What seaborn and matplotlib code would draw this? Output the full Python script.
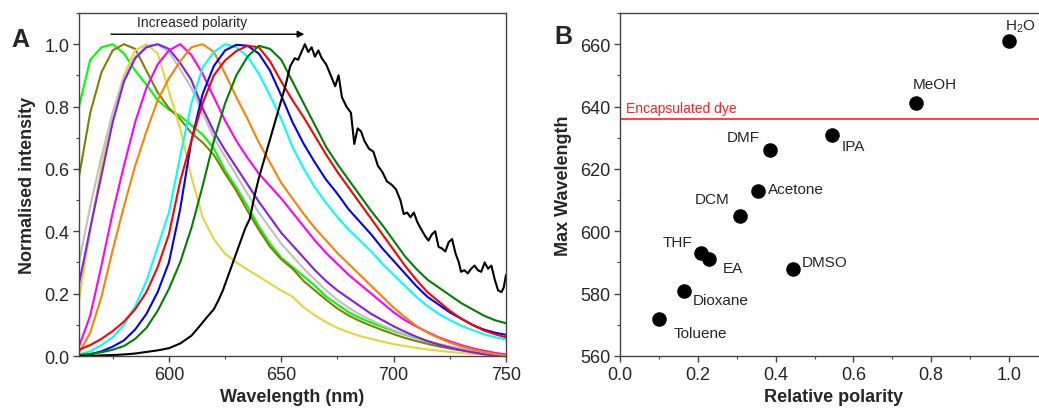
import numpy as np
import pandas as pd
import matplotlib
matplotlib.use("Agg")
import matplotlib.pyplot as plt
from matplotlib.ticker import MultipleLocator
import seaborn as sns

# ---------------- Data: panel A (emission spectra) ----------------
wl = [560, 565, 570, 575, 580, 585, 590, 595, 600, 605, 610, 615, 620, 625, 630,
      635, 640, 645, 650, 655, 660, 665, 670, 675, 680, 685, 690, 695, 700, 705,
      710, 715, 720, 725, 730, 735, 740, 745, 750]

lime = [0.80, 0.95, 0.99, 1.00, 0.97, 0.915, 0.87, 0.82, 0.79, 0.77, 0.74, 0.71, 0.665, 0.595, 0.54,
        0.48, 0.415, 0.36, 0.315, 0.285, 0.255, 0.225, 0.19, 0.165, 0.14, 0.122, 0.107, 0.093, 0.08, 0.068,
        0.057, 0.047, 0.038, 0.03, 0.023, 0.017, 0.012, 0.007, 0.003]
olive = [0.575, 0.78, 0.91, 0.98, 1.00, 0.985, 0.915, 0.845, 0.795, 0.76, 0.715, 0.685, 0.645, 0.585, 0.53,
         0.465, 0.405, 0.35, 0.31, 0.28, 0.24, 0.21, 0.18, 0.152, 0.13, 0.112, 0.097, 0.083, 0.07, 0.058,
         0.048, 0.039, 0.031, 0.024, 0.018, 0.013, 0.008, 0.004, 0.002]
gold = [0.18, 0.40, 0.61, 0.78, 0.90, 0.98, 1.00, 0.97, 0.85, 0.73, 0.575, 0.445, 0.375, 0.328, 0.30,
        0.277, 0.255, 0.232, 0.21, 0.19, 0.156, 0.13, 0.108, 0.09, 0.076, 0.064, 0.055, 0.046, 0.038, 0.032,
        0.026, 0.021, 0.017, 0.013, 0.01, 0.007, 0.005, 0.003, 0.001]
gray = [0.30, 0.48, 0.64, 0.78, 0.89, 0.96, 0.995, 1.00, 0.975, 0.92, 0.86, 0.78, 0.70, 0.64, 0.58,
        0.52, 0.46, 0.41, 0.36, 0.32, 0.28, 0.245, 0.21, 0.18, 0.155, 0.133, 0.115, 0.098, 0.083, 0.07,
        0.058, 0.048, 0.039, 0.031, 0.024, 0.018, 0.012, 0.007, 0.003]
violet = [0.23, 0.41, 0.58, 0.75, 0.88, 0.955, 0.99, 1.00, 0.985, 0.94, 0.885, 0.795, 0.72, 0.66, 0.605,
          0.55, 0.495, 0.445, 0.395, 0.355, 0.315, 0.275, 0.24, 0.21, 0.185, 0.16, 0.135, 0.115, 0.095, 0.078,
          0.062, 0.048, 0.037, 0.027, 0.019, 0.012, 0.006, 0.002, 0.0]
magenta = [0.03, 0.13, 0.29, 0.46, 0.61, 0.75, 0.86, 0.935, 0.98, 1.00, 0.965, 0.905, 0.83, 0.755, 0.69,
           0.635, 0.585, 0.545, 0.505, 0.46, 0.415, 0.37, 0.33, 0.295, 0.26, 0.23, 0.20, 0.17, 0.14, 0.115,
           0.095, 0.077, 0.06, 0.047, 0.035, 0.025, 0.017, 0.01, 0.005]
orange = [0.01, 0.075, 0.19, 0.34, 0.48, 0.61, 0.72, 0.82, 0.89, 0.945, 0.99, 1.00, 0.975, 0.905, 0.83,
          0.76, 0.685, 0.62, 0.555, 0.505, 0.455, 0.41, 0.37, 0.33, 0.295, 0.26, 0.225, 0.19, 0.155, 0.125,
          0.097, 0.075, 0.058, 0.043, 0.031, 0.021, 0.013, 0.006, 0.002]
cyan = [0.005, 0.015, 0.035, 0.06, 0.10, 0.16, 0.24, 0.35, 0.46, 0.64, 0.81, 0.925, 0.975, 1.00, 0.99,
        0.96, 0.905, 0.835, 0.76, 0.67, 0.60, 0.54, 0.49, 0.445, 0.405, 0.37, 0.335, 0.295, 0.26, 0.225,
        0.19, 0.16, 0.135, 0.115, 0.097, 0.083, 0.07, 0.06, 0.053]
blue = [0.0, 0.005, 0.015, 0.03, 0.05, 0.085, 0.135, 0.205, 0.30, 0.47, 0.69, 0.84, 0.93, 0.98, 0.998,
        0.995, 0.97, 0.915, 0.835, 0.75, 0.68, 0.62, 0.565, 0.52, 0.47, 0.43, 0.39, 0.345, 0.305, 0.265,
        0.225, 0.19, 0.165, 0.14, 0.12, 0.10, 0.085, 0.075, 0.068]
red = [0.02, 0.035, 0.055, 0.08, 0.11, 0.15, 0.205, 0.285, 0.39, 0.56, 0.69, 0.81, 0.90, 0.948, 0.978,
       0.995, 0.99, 0.945, 0.88, 0.82, 0.765, 0.705, 0.645, 0.59, 0.54, 0.49, 0.44, 0.39, 0.34, 0.29,
       0.245, 0.205, 0.175, 0.145, 0.12, 0.10, 0.082, 0.07, 0.06]
dkgreen = [0.003, 0.007, 0.012, 0.02, 0.032, 0.055, 0.09, 0.145, 0.215, 0.30, 0.41, 0.545, 0.69, 0.81, 0.90,
           0.96, 0.995, 0.985, 0.95, 0.88, 0.81, 0.74, 0.67, 0.615, 0.565, 0.515, 0.465, 0.42, 0.37, 0.32,
           0.28, 0.245, 0.22, 0.195, 0.17, 0.15, 0.13, 0.115, 0.105]

wl_black = [560, 565, 570, 575, 580, 585, 590, 595, 600, 605, 610, 613, 617, 620, 622, 624, 626, 628,
            630, 632, 634, 636, 638, 640, 642, 644, 646, 648, 650, 652, 654, 656, 657.5, 659, 660.5,
            662, 663.5, 665, 666.5, 668, 670, 672, 674, 675.5, 677, 679, 681, 682.5, 684, 685.5, 687,
            689, 691, 693, 695, 697, 699, 701, 703, 704.5, 706, 707.5, 709, 710.5, 712, 714, 715.5,
            717, 718.5, 720, 721.5, 723, 724.5, 726, 727.5, 729, 730, 731.5, 733, 734.5, 736, 737.5,
            739, 740.5, 742, 743.5, 745, 746.5, 748, 749, 750]
black = [0.0, 0.0, 0.002, 0.003, 0.005, 0.008, 0.013, 0.018, 0.025, 0.04, 0.065, 0.09, 0.125, 0.15,
         0.178, 0.21, 0.25, 0.29, 0.33, 0.37, 0.41, 0.44, 0.51, 0.57, 0.62, 0.67, 0.72, 0.77, 0.82,
         0.87, 0.93, 0.955, 0.95, 0.975, 1.0, 0.975, 0.99, 0.96, 0.98, 0.955, 0.935, 0.90, 0.865,
         0.90, 0.83, 0.80, 0.78, 0.68, 0.73, 0.72, 0.69, 0.665, 0.655, 0.61, 0.59, 0.56, 0.55, 0.535,
         0.50, 0.455, 0.46, 0.445, 0.46, 0.43, 0.41, 0.385, 0.37, 0.39, 0.40, 0.35, 0.345, 0.335,
         0.365, 0.375, 0.33, 0.30, 0.27, 0.275, 0.265, 0.28, 0.29, 0.275, 0.27, 0.30, 0.28, 0.29,
         0.245, 0.21, 0.205, 0.22, 0.26]

series_names = ["lime", "olive", "gold", "gray", "violet", "magenta", "orange",
                "cyan", "blue", "red", "dkgreen", "black"]
series_colors = ["#00ff00", "#808000", "#e6d43a", "#c0c0c0", "#8020e8", "#ff00ff", "#ff8000",
                 "#00ffff", "#0000ff", "#ff0000", "#008000", "#000000"]

# ---------------- Data: panel B ----------------
solvents = ["Toluene", "Dioxane", "THF", "EA", "DCM", "Acetone", "DMF", "DMSO", "IPA", "MeOH", "H$_2$O"]
rel_polarity = [0.099, 0.164, 0.207, 0.228, 0.309, 0.355, 0.386, 0.444, 0.546, 0.762, 1.000]
max_wl = [572, 581, 593, 591, 605, 613, 626, 588, 631, 641, 661]
label_x = [0.139, 0.186, 0.109, 0.265, 0.193, 0.381, 0.274, 0.468, 0.569, 0.752, 0.99]
label_y = [567.4, 578.0, 596.7, 588.2, 610.4, 613.6, 630.1, 590.3, 627.4, 647.2, 666.0]
encapsulated_dye = 636

# ---------------- Build long-form table ----------------
curve_values = [lime, olive, gold, gray, violet, magenta, orange, cyan, blue, red, dkgreen]
frames = []
for name, vals in zip(series_names[:-1], curve_values):
    frames.append(pd.DataFrame({"wl": wl, "I": vals, "series": name}))
frames.append(pd.DataFrame({"wl": wl_black, "I": black, "series": "black"}))
spec = pd.concat(frames, ignore_index=True)
dfB = pd.DataFrame({"x": rel_polarity, "y": max_wl, "name": solvents})

# ---------------- Style ----------------
sns.set_style("ticks")
plt.rcParams["font.family"] = ["Liberation Sans", "DejaVu Sans"]
plt.rcParams["mathtext.fontset"] = "custom"
plt.rcParams["mathtext.rm"] = "Liberation Sans"
plt.rcParams["mathtext.it"] = "Liberation Sans"
spine_c = "#444444"

fig = plt.figure(figsize=(10.39, 4.14), dpi=100)
axA = fig.add_axes([79/1039, 1-357/414, (506-79)/1039, (357-14)/414])
axB = fig.add_axes([620/1039, 1-357/414, 1.1*389/1039, (357-14)/414])

# Panel A
sns.lineplot(data=spec, x="wl", y="I", hue="series", hue_order=series_names,
             palette=dict(zip(series_names, series_colors)), estimator=None,
             sort=False, lw=1.5, legend=False, ax=axA)
axA.set_xlim(560, 750)
axA.set_ylim(0, 1.1)
axA.xaxis.set_major_locator(MultipleLocator(50))
axA.xaxis.set_minor_locator(MultipleLocator(25))
axA.yaxis.set_major_locator(MultipleLocator(0.2))
axA.yaxis.set_minor_locator(MultipleLocator(0.1))
axA.set_xticks([600, 650, 700, 750])
axA.set_yticks([0.0, 0.2, 0.4, 0.6, 0.8, 1.0])
axA.set_yticklabels(["0.0", "0.2", "0.4", "0.6", "0.8", "1.0"])
axA.set_xlabel("Wavelength (nm)", fontsize=13, fontweight="bold", labelpad=4)
axA.set_ylabel("Normalised intensity", fontsize=13, fontweight="bold", labelpad=6)
axA.annotate("", xy=(661.5, 1.032), xytext=(573, 1.032),
             arrowprops=dict(arrowstyle="-|>", color="black", lw=1.0, mutation_scale=10))
axA.text(610.5, 1.07, "Increased polarity", fontsize=10, ha="center", va="center")

# Panel B
sns.scatterplot(data=dfB, x="x", y="y", color="black", s=110, edgecolor="black",
                linewidth=0, ax=axB, zorder=3)
axB.axhline(encapsulated_dye, color="#ff2020", lw=1.2)
axB.text(0.015, 639.4, "Encapsulated dye", color="#ff2020", fontsize=10, ha="left", va="center")
for nm, lx, ly in zip(solvents, label_x, label_y):
    axB.text(lx, ly, nm, fontsize=11, ha="left", va="center")
axB.set_xlim(0, 1.1)
axB.set_ylim(560, 670)
axB.set_xticks([0.0, 0.2, 0.4, 0.6, 0.8, 1.0])
axB.set_xticklabels(["0.0", "0.2", "0.4", "0.6", "0.8", "1.0"])
axB.xaxis.set_minor_locator(MultipleLocator(0.1))
axB.set_yticks([560, 580, 600, 620, 640, 660])
axB.yaxis.set_minor_locator(MultipleLocator(10))
axB.set_xlabel("Relative polarity", fontsize=13, fontweight="bold", labelpad=4)
axB.set_ylabel("Max Wavelength", fontsize=13, fontweight="bold", labelpad=6)

for ax in (axA, axB):
    for sp in ax.spines.values():
        sp.set_color(spine_c)
        sp.set_linewidth(1.0)
    ax.tick_params(which="major", direction="out", length=4, width=1.0, color=spine_c,
                   labelsize=13, pad=3, top=False, right=False)
    ax.tick_params(which="minor", direction="out", length=2.5, width=0.8, color=spine_c,
                   top=False, right=False)

fig.text(20/1039, 1-40/414, "A", fontsize=18, fontweight="bold", ha="center", va="center")
fig.text(563/1039, 1-37/414, "B", fontsize=18, fontweight="bold", ha="center", va="center")

fig.savefig("out.png", dpi=100)
